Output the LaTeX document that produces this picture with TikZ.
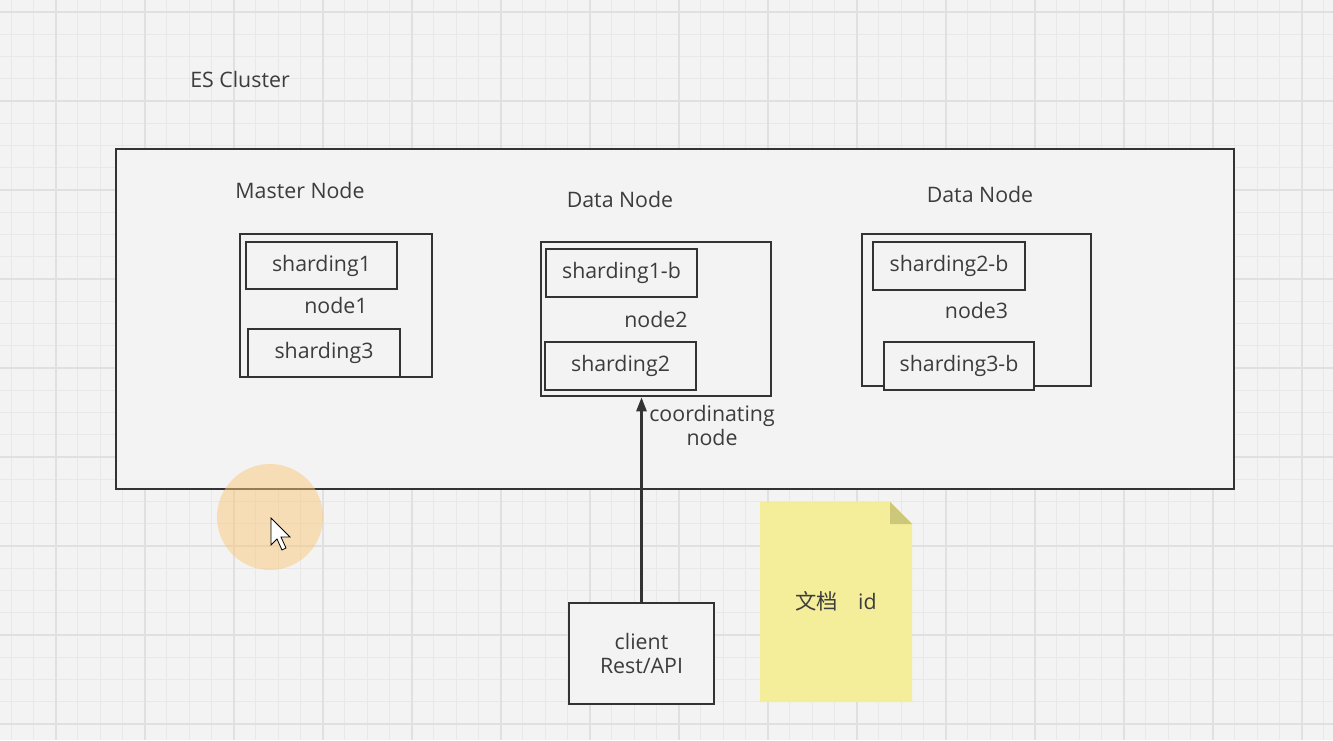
\documentclass[tikz,border=0pt]{standalone}
\usepackage{fontspec}
\setmainfont{Open Sans}
\newfontfamily\cjk{Noto Sans CJK SC}
\usetikzlibrary{arrows.meta}
\definecolor{bg}{RGB}{243,243,243}
\definecolor{gminor}{RGB}{232,232,232}
\definecolor{gmajor}{RGB}{224,224,224}
\definecolor{ink}{RGB}{51,51,51}
\definecolor{txt}{RGB}{60,60,60}
\definecolor{noteyellow}{RGB}{244,238,155}
\definecolor{notefold}{RGB}{205,199,122}
\definecolor{halo}{RGB}{250,200,120}
\tikzset{
  lbl/.style={text=txt, font=\fontsize{16}{18}\selectfont, inner sep=0pt},
  frame/.style={draw=ink, line width=1.9pt, fill=bg, inner sep=0pt},
  hostbox/.style={frame, text=txt, font=\fontsize{16}{18}\selectfont},
  shardbox/.style={frame, text=txt, font=\fontsize{16}{18}\selectfont},
  conn/.style={draw=ink, line width=1.9pt, -{Triangle[length=10.5pt,width=7.5pt]}},
}
\begin{document}
\begin{tikzpicture}[x=0.75pt,y=-0.75pt]
\useasboundingbox (0,0) rectangle (1333,740);
\fill[bg] (0,0) rectangle (1333,740);
% grid
\foreach \i in {0,...,60} {
  \draw[gminor, line width=0.7pt] ({11+22.25*\i},0) -- ({11+22.25*\i},740);
}
\foreach \i in {0,...,33} {
  \draw[gminor, line width=0.7pt] (0,{12+22.25*\i}) -- (1333,{12+22.25*\i});
}
\foreach \i in {0,...,15} {
  \draw[gmajor, line width=0.8pt] ({56+89*\i},0) -- ({56+89*\i},740);
}
\foreach \i in {0,...,8} {
  \draw[gmajor, line width=0.8pt] (0,{12+89*\i}) -- (1333,{12+89*\i});
}

\node[lbl] (title) at (240,79) {ES Cluster};

% cluster frame
\node[frame, minimum width=1118*0.75pt, minimum height=340*0.75pt] (cluster) at (675,319) {};

\node[lbl] (mlabel) at (300,190) {Master Node};
\node[lbl] (d1label) at (620,199) {Data Node};
\node[lbl] (d2label) at (980,194) {Data Node};

% node1
\node[hostbox, minimum width=192*0.75pt, minimum height=143*0.75pt] (n1) at (336,305.5) {node1};
\node[shardbox, minimum width=151*0.75pt, minimum height=47*0.75pt] (s1) at (321.5,265.5) {sharding1};
\node[shardbox, minimum width=152*0.75pt, minimum height=48*0.75pt] (s3) at (324,353) {sharding3};

% node2
\node[hostbox, minimum width=230*0.75pt, minimum height=154*0.75pt] (n2) at (656,319) {node2};
\node[shardbox, minimum width=151*0.75pt, minimum height=48*0.75pt] (s1b) at (621.5,273) {sharding1-b};
\node[shardbox, minimum width=151*0.75pt, minimum height=48*0.75pt] (s2) at (620.5,366) {sharding2};

% node3
\node[hostbox, minimum width=229*0.75pt, minimum height=152*0.75pt] (n3) at (976.5,310) {node3};
\node[shardbox, minimum width=152*0.75pt, minimum height=48*0.75pt] (s2b) at (949,266) {sharding2-b};
\node[shardbox, minimum width=150*0.75pt, minimum height=48*0.75pt] (s3b) at (959,366) {sharding3-b};

% client
\node[hostbox, align=center, minimum width=145*0.75pt, minimum height=101*0.75pt,
      font=\fontsize{16}{17.5}\selectfont] (client) at (641.5,653.5) {client\\Rest/API};

\draw[conn] (client.north) -- (client.north |- n2.south);
\node[lbl, align=center, font=\fontsize{16}{18}\selectfont] (coord) at (712,425) {coordinating\\node};

% note
\fill[noteyellow] (760,502) -- (890,502) -- (912,524) -- (912,702) -- (760,702) -- cycle;
\fill[notefold] (890,502) -- (890,524) -- (912,524) -- cycle;
\node[lbl] (note) at (836,601) {{\cjk 文档}\hspace{0.95em}id};

% cursor highlight
\fill[halo, opacity=0.5] (270,517) circle[radius=53];
\draw[black, fill=white, line width=0.6pt, line join=miter]
  (271,518) -- (271,545) -- (277,539) -- (282,550) -- (286,548) -- (281,537) -- (290,537) -- cycle;
\end{tikzpicture}
\end{document}
